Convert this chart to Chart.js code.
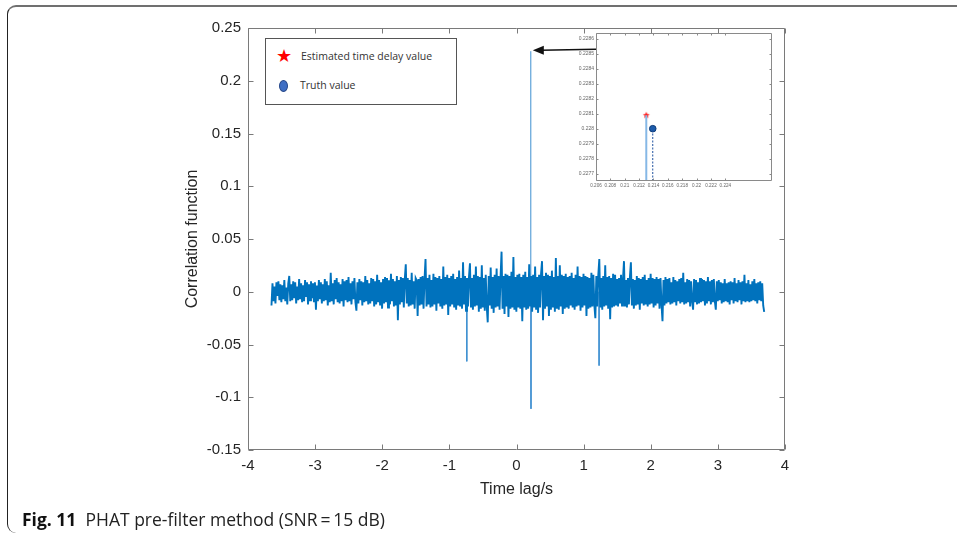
<!DOCTYPE html>
<html><head><meta charset="utf-8">
<script src="https://cdn.jsdelivr.net/npm/chart.js@4/dist/chart.umd.min.js"></script>
<style>
html,body{margin:0;padding:0;background:#fff}
body{width:957px;height:541px;overflow:hidden;position:relative;font-family:"Liberation Sans",Arial,sans-serif}
#frame{position:absolute;left:7px;top:5px;width:990px;height:528px;border-top:2px solid #707070;border-left:1.5px solid #222;border-radius:9px 0 0 9px;box-sizing:border-box}
#main{position:absolute;left:0;top:0}
#inset{position:absolute;left:560px;top:25px}
#legend{position:absolute;left:265px;top:38px;width:192px;height:67px;border:1px solid #555;background:#fff;box-sizing:border-box}
#legend .star{position:absolute;left:9px;top:8px;width:18px;text-align:center;color:#f00;font-size:18px;line-height:18px;font-family:"DejaVu Sans"}
#legend .dot{position:absolute;left:13px;top:41px;width:9px;height:12px;border-radius:50%;background:#3f6fc4;border:1px solid #27488a;box-sizing:border-box}
#legend .t{position:absolute;font-family:"Open Sans",sans-serif;font-size:10.5px;color:#333;white-space:nowrap}
#caption{position:absolute;left:22px;top:508px;font-family:"Open Sans",sans-serif;font-size:17.5px;color:#222;white-space:nowrap;line-height:22px}
#caption b{color:#111}
</style></head>
<body>
<div id="frame"></div>
<canvas id="main" width="957" height="541"></canvas>
<canvas id="inset" width="220" height="165"></canvas>
<div id="legend">
  <div class="star">★</div><div class="t" style="left:35px;top:10px">Estimated time delay value</div>
  <div class="dot"></div><div class="t" style="left:34px;top:39px">Truth value</div>
</div>
<div id="caption"><b>Fig. 11</b>&nbsp; PHAT pre-filter method (SNR&#8201;=&#8201;15 dB)</div>
<script>
// ---- data ----
const lagStart = -3.65, lagEnd = 3.69;            // sampling span of the correlation (s)
const noiseValues = [
-.013,.008,-.009,.005,-.011,.009,-.004,.010,-.008,.007,-.010,.006,-.007,.011,-.009,.004,-.012,.008,.015,-.009,.007,-.008,.010,-.006,.009,-.011,.005,-.008,.012,-.007,.008,-.010,.006,-.009,.011,-.005,.009,-.012,.007,-.008,.010,-.006,.008,-.010,.009,-.017,.006,-.009,.011,-.007,
.009,-.011,.007,-.009,.012,-.008,.010,-.013,.006,-.010,.018,-.009,.008,-.012,.011,-.007,.013,-.010,.009,-.011,.007,-.009,.012,-.014,.010,-.008,.011,-.010,.014,-.009,.008,-.012,.010,-.007,.013,-.010,-.018,.009,-.011,.012,-.008,.010,-.013,.009,-.010,.015,-.009,.011,-.012,.008,
-.011,.013,-.009,.012,-.014,.010,-.012,.016,-.010,.011,-.013,.009,-.016,.012,-.011,.014,-.010,.013,-.015,.011,-.012,.017,-.009,.012,-.014,.010,-.013,.015,-.027,.011,-.012,.014,-.010,.013,-.015,.012,.026,-.011,.013,-.014,.011,-.013,.018,-.012,.010,-.016,.013,.011,-.023,.012,
-.013,.014,-.012,.015,-.016,.012,.031,-.014,.013,-.012,.016,-.015,.011,-.014,.017,-.012,.014,-.018,.013,-.011,.015,-.014,.012,-.016,.024,-.013,.014,-.012,.016,-.022,.013,-.014,.015,-.012,.017,-.015,.012,-.017,.014,-.013,.020,-.014,.013,-.016,.028,-.012,.015,-.018,.013,-.014,
.014,.027,-.015,.013,-.017,.016,-.014,.024,-.013,.015,-.019,.014,-.016,.025,-.015,.013,-.018,.016,-.014,-.029,.015,-.013,.023,-.016,.014,-.020,.016,-.015,.022,-.014,.015,-.017,.014,.038,-.016,.015,-.021,.017,-.014,.016,-.024,.015,-.016,.019,-.015,.033,-.017,.014,-.019,.016,
-.015,.017,-.016,.014,-.028,.016,-.015,.019,-.017,.014,-.016,.026,-.014,.015,-.019,.016,-.015,.024,-.017,.014,-.020,.016,-.015,.017,.029,-.027,.015,-.016,.018,-.014,.016,-.023,.015,-.017,.020,-.015,.014,-.019,.032,-.016,.015,-.017,.025,-.014,.016,-.021,.015,-.016,.017,-.015,
.014,-.016,.015,-.013,.018,-.015,.013,-.017,.016,-.014,.024,-.013,.015,-.018,.014,-.015,.017,-.013,.015,-.023,.014,-.016,.013,-.015,.018,-.014,.016,-.013,-.025,.015,-.014,.016,.031,-.015,.013,-.017,.015,-.014,.025,-.013,.014,-.016,.015,-.026,.013,-.015,.017,-.014,.016,-.013,
.012,-.014,.013,-.011,.016,-.013,.012,.029,-.014,.011,-.015,.013,-.012,.014,.028,-.013,.012,-.016,.011,-.013,.015,-.012,.013,-.017,.012,-.011,.014,-.013,.016,-.012,.011,-.014,.013,-.012,.017,-.011,.013,-.015,.012,-.013,.014,-.011,.012,-.016,.013,-.012,-.028,.011,-.013,.014,
-.011,.012,-.010,.013,-.012,.009,-.011,.014,-.010,.011,-.013,.010,-.009,.012,-.011,.013,-.010,.018,-.012,.009,-.011,.012,-.010,.011,-.014,.010,-.009,-.017,.012,-.010,.011,-.012,.009,-.011,.013,-.010,.012,-.009,.011,-.013,.010,-.011,.014,-.009,.010,-.012,.011,-.010,.012,-.009,
-.017,.010,-.009,.011,-.008,.009,-.011,.008,-.010,.012,-.009,.008,-.010,.009,-.012,.010,-.008,.009,-.011,.013,-.009,.008,-.010,.011,-.008,.009,-.012,.010,-.009,.016,-.010,.008,-.009,.011,-.010,.007,-.009,.010,-.008,.012,-.009,.008,-.011,.009,-.008,.010,-.009,.008,-.013,-.019
];
// isolated correlation spikes (lag s, value)
const spikeLag = [-0.74, 0.213, 0.216, 1.23];
const spikeVal = [-0.066, 0.228, -0.111, -0.070];
const peakIndex = 1;
// axis ticks
const xTicks = [-4, -3, -2, -1, 0, 1, 2, 3, 4];
const yTicks = [-0.15, -0.1, -0.05, 0, 0.05, 0.1, 0.15, 0.2, 0.25];
// zoomed inset
const insetEstLag = [0.213], insetEstVal = [0.22809];
const insetTruthLag = [0.2139], insetTruthVal = [0.2280];
const insetXTicks = [0.206, 0.208, 0.21, 0.212, 0.214, 0.216, 0.218, 0.22, 0.222, 0.224];
const insetYTicks = [0.2277, 0.2278, 0.2279, 0.228, 0.2281, 0.2282, 0.2283, 0.2284, 0.2285, 0.2286];
const insetXRange = [0.206, 0.2305], insetYRange = [0.22765, 0.22864];

// ---- build ----
const LINE = '#0072BD', AXIS = '#7a7a7a', TXT = '#262626';
const INSET_LEFT = 560, INSET_TOP = 25, INSET_AXIS_W = 36;
const lagStep = (lagEnd - lagStart) / (noiseValues.length - 1);
const noisePts = noiseValues.map((v, i) => ({x: lagStart + i * lagStep, y: v}));
const spikePts = [];
spikeLag.forEach((l, i) => { spikePts.push({x: l, y: 0}, {x: l, y: spikeVal[i]}, {x: l, y: null}); });

function boxTicks(chart, len, color) {
  const {ctx, chartArea: a, scales: {x, y}} = chart;
  ctx.save();
  ctx.strokeStyle = color; ctx.lineWidth = 1;
  const L = Math.round(a.left) + 0.5, R = Math.round(a.right) - 0.5, T = Math.round(a.top) + 0.5, B = Math.round(a.bottom) - 0.5;
  ctx.beginPath();
  ctx.rect(L, T, R - L, B - T);
  x.ticks.forEach(t => { const p = Math.round(x.getPixelForValue(t.value)) + 0.5; ctx.moveTo(p, B); ctx.lineTo(p, B - len); ctx.moveTo(p, T); ctx.lineTo(p, T + len); });
  y.ticks.forEach(t => { const p = Math.round(y.getPixelForValue(t.value)) + 0.5; ctx.moveTo(L, p); ctx.lineTo(L + len, p); ctx.moveTo(R, p); ctx.lineTo(R - len, p); });
  ctx.stroke();
  ctx.restore();
}

const mainFrame = {
  id: 'mainFrame',
  afterDraw(chart) {
    boxTicks(chart, 5, AXIS);
    const {ctx, scales: {x, y}} = chart;
    const tx = x.getPixelForValue(spikeLag[peakIndex]) + 2, ty = y.getPixelForValue(spikeVal[peakIndex]) - 1;
    const sx = INSET_LEFT + INSET_AXIS_W, sy = ty - 1;
    ctx.save();
    ctx.strokeStyle = '#111'; ctx.fillStyle = '#111'; ctx.lineWidth = 1.6;
    ctx.beginPath(); ctx.moveTo(sx, sy); ctx.lineTo(tx + 8, ty); ctx.stroke();
    ctx.beginPath(); ctx.moveTo(tx, ty); ctx.lineTo(tx + 11, ty - 4.5); ctx.lineTo(tx + 11, ty + 4.5); ctx.closePath(); ctx.fill();
    ctx.restore();
  }
};

new Chart(document.getElementById('main'), {
  type: 'line',
  data: {datasets: [
    {data: noisePts, borderColor: LINE, borderWidth: 1.9, pointRadius: 0, tension: 0, borderJoinStyle: 'miter'},
    {data: spikePts, borderColor: '#3d8fd0', borderWidth: 1, pointRadius: 0, tension: 0, spanGaps: false}
  ]},
  options: {
    responsive: false, animation: false, devicePixelRatio: 1,
    layout: {padding: {left: 0, top: 28, right: 172, bottom: 31}},
    plugins: {legend: {display: false}, tooltip: {enabled: false}},
    scales: {
      x: {type: 'linear', min: -4, max: 4,
        afterBuildTicks: s => { s.ticks = xTicks.map(v => ({value: v})); },
        ticks: {autoSkip: false, maxRotation: 0, padding: 7, color: TXT, font: {family: 'Liberation Sans', size: 15}, callback: v => String(v)},
        grid: {display: false, drawTicks: false}, border: {display: false},
        title: {display: true, text: 'Time lag/s', color: TXT, font: {family: 'Liberation Sans', size: 16}, padding: {top: 0, bottom: 11}},
        afterFit: s => { s.height = 60; }
      },
      y: {type: 'linear', min: -0.15, max: 0.25,
        afterBuildTicks: s => { s.ticks = yTicks.map(v => ({value: v})); },
        ticks: {autoSkip: false, padding: 7, color: TXT, font: {family: 'Liberation Sans', size: 15}, callback: v => String(Number(v.toFixed(2)))},
        grid: {display: false, drawTicks: false}, border: {display: false},
        title: {display: true, text: 'Correlation function', color: TXT, font: {family: 'Liberation Sans', size: 16}, padding: {top: 183, bottom: 0}},
        afterFit: s => { s.width = 248; }
      }
    }
  },
  plugins: [mainFrame]
});

// ---- inset ----
function starImage(r, color) {
  const c = document.createElement('canvas'); const s = Math.ceil(r * 2 + 2);
  c.width = s; c.height = s; const g = c.getContext('2d');
  g.fillStyle = color; g.beginPath();
  for (let k = 0; k < 10; k++) {
    const rr = k % 2 ? r * 0.45 : r, ang = -Math.PI / 2 + k * Math.PI / 5;
    const px = s / 2 + rr * Math.cos(ang), py = s / 2 + rr * Math.sin(ang);
    k ? g.lineTo(px, py) : g.moveTo(px, py);
  }
  g.closePath(); g.fill(); return c;
}
const insetBg = {
  id: 'insetBg',
  beforeDatasetsDraw(chart) { const {ctx, chartArea: a} = chart; ctx.save(); ctx.fillStyle = '#fff'; ctx.fillRect(a.left, a.top, a.width, a.height); ctx.restore(); },
  afterDraw(chart) { boxTicks(chart, 2, '#8a8a8a'); }
};
const yMin = insetYRange[0];
new Chart(document.getElementById('inset'), {
  type: 'line',
  data: {datasets: [
    {data: insetEstLag.map((l, i) => [{x: l, y: yMin}, {x: l, y: insetEstVal[i]}]).flat(), borderColor: '#86b8e6', borderWidth: 2, pointRadius: 0},
    {data: insetTruthLag.map((l, i) => [{x: l, y: yMin}, {x: l, y: insetTruthVal[i]}]).flat(), borderColor: '#1d4f9e', borderWidth: 1, borderDash: [2, 1.5], pointRadius: 0},
    {data: insetEstLag.map((l, i) => ({x: l, y: insetEstVal[i]})), showLine: false, pointStyle: starImage(3.6, '#ff1a1a'), pointRadius: 4},
    {data: insetTruthLag.map((l, i) => ({x: l, y: insetTruthVal[i]})), showLine: false, pointStyle: 'circle', pointRadius: 3.3, backgroundColor: '#1d5cab', borderColor: '#0e3b78', borderWidth: 1}
  ]},
  options: {
    responsive: false, animation: false, devicePixelRatio: 1,
    layout: {padding: {left: 0, top: 8, right: 8, bottom: 0}},
    plugins: {legend: {display: false}, tooltip: {enabled: false}},
    scales: {
      x: {type: 'linear', min: insetXRange[0], max: insetXRange[1],
        afterBuildTicks: s => { s.ticks = insetXTicks.map(v => ({value: v})); },
        ticks: {autoSkip: false, maxRotation: 0, padding: 2, color: '#666', font: {family: 'Liberation Sans', size: 4.6}, callback: v => String(Number(v.toFixed(3)))},
        grid: {display: false, drawTicks: false}, border: {display: false},
        afterFit: s => { s.height = 9; }
      },
      y: {type: 'linear', min: insetYRange[0], max: insetYRange[1],
        afterBuildTicks: s => { s.ticks = insetYTicks.map(v => ({value: v})); },
        ticks: {autoSkip: false, padding: 2, color: '#666', font: {family: 'Liberation Sans', size: 5}, callback: v => String(Number(v.toFixed(4)))},
        grid: {display: false, drawTicks: false}, border: {display: false},
        afterFit: s => { s.width = INSET_AXIS_W; }
      }
    }
  },
  plugins: [insetBg]
});
</script>
</body></html>
